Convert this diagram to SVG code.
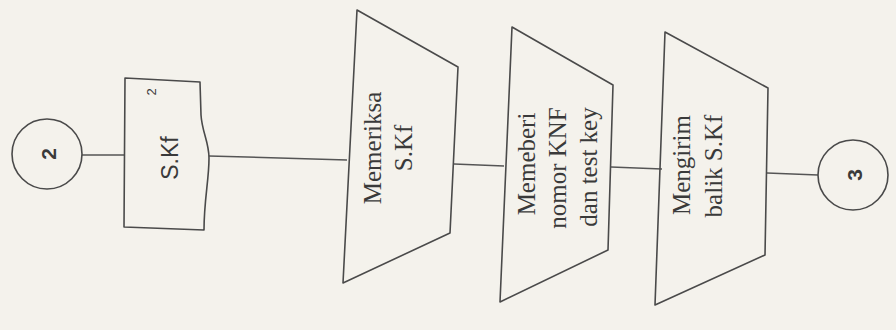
<svg xmlns="http://www.w3.org/2000/svg" width="896" height="330" viewBox="0 0 896 330">
<style>
.shape{fill:none;stroke:#4a4a4a;stroke-width:1.6;stroke-linejoin:round}
.conn{stroke:#555;stroke-width:1.5;fill:none}
.serif{font-family:"Liberation Serif","Times New Roman",serif;font-size:25px;fill:#3a3a3a}
.sans{font-family:"Liberation Sans",Arial,sans-serif;fill:#3a3a3a}
</style>
<rect width="896" height="330" fill="#f4f2ec"/>
<g id="connectors">
<line class="conn" x1="82" y1="155" x2="125" y2="155"/>
<line class="conn" x1="209" y1="156" x2="347" y2="160"/>
<line class="conn" x1="454" y1="164" x2="504" y2="166"/>
<line class="conn" x1="611" y1="167" x2="662" y2="169"/>
<line class="conn" x1="767" y1="173" x2="818" y2="175"/>
</g>
<g id="conn2">
<circle class="shape" cx="47" cy="154" r="35"/>
<text class="sans" font-size="21" font-weight="bold" text-anchor="middle" dominant-baseline="central" transform="translate(48,154) rotate(-90)">2</text>
</g>
<g id="doc">
<path class="shape" d="M125,78 L200,82 L201,115 C202,132 209,142 209,158 C209,180 204,200 204,230 L124,227 Z"/>
<text class="sans" font-size="13" text-anchor="middle" dominant-baseline="central" transform="translate(151,92) rotate(-90)">2</text>
<text class="sans" font-size="23" text-anchor="middle" dominant-baseline="central" transform="translate(170,158) rotate(-90)">S.Kf</text>
</g>
<g id="proc1">
<path class="shape" d="M357,10 L458,67 L450,233 L343,283 Z"/>
<text class="serif" text-anchor="middle" dominant-baseline="central" transform="translate(372,148) rotate(-90)">Memeriksa</text>
<text class="serif" text-anchor="middle" dominant-baseline="central" transform="translate(403,148) rotate(-90)">S.Kf</text>
</g>
<g id="proc2">
<path class="shape" d="M512,27 L613,85 L608,250 L500,302 Z"/>
<text class="serif" text-anchor="middle" dominant-baseline="central" transform="translate(526,164) rotate(-90)">Memeberi</text>
<text class="serif" text-anchor="middle" dominant-baseline="central" transform="translate(557,168) rotate(-90)">nomor KNF</text>
<text class="serif" text-anchor="middle" dominant-baseline="central" transform="translate(588,167) rotate(-90)">dan test key</text>
</g>
<g id="proc3">
<path class="shape" d="M665,32 L768,88 L765,255 L655,305 Z"/>
<text class="serif" text-anchor="middle" dominant-baseline="central" transform="translate(681,165) rotate(-90)">Mengirim</text>
<text class="serif" text-anchor="middle" dominant-baseline="central" transform="translate(713,166) rotate(-90)">balik S.Kf</text>
</g>
<g id="conn3">
<circle class="shape" cx="853" cy="175" r="35"/>
<text class="sans" font-size="21" font-weight="bold" text-anchor="middle" dominant-baseline="central" transform="translate(854,175) rotate(-90)">3</text>
</g>
</svg>
